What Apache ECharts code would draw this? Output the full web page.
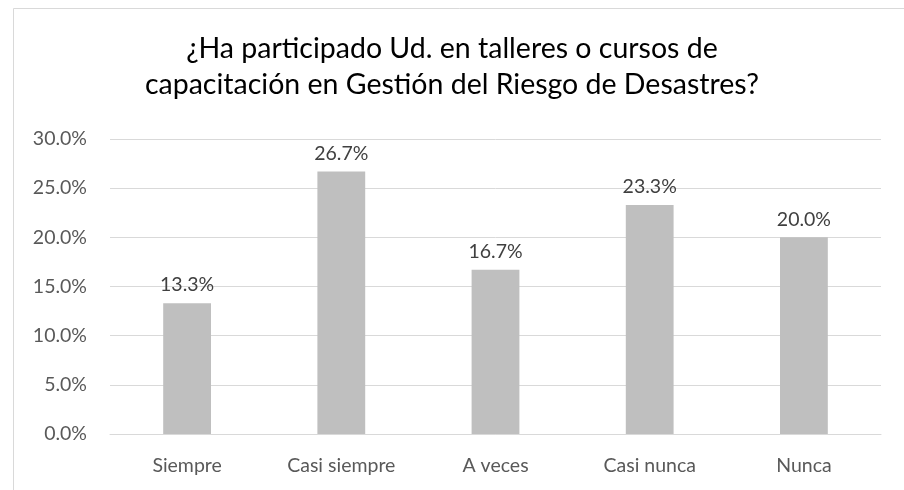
<!DOCTYPE html>
<html>
<head>
<meta charset="utf-8">
<script src="https://cdn.jsdelivr.net/npm/echarts@6/dist/echarts.min.js"></script>
<style>
html,body{margin:0;padding:0;background:#fff;}
#chart{width:904px;height:490px;}
</style>
</head>
<body>
<div id="chart"></div>
<script>
const titleText = "¿Ha participado Ud. en talleres o cursos de\ncapacitación en Gestión del Riesgo de Desastres?";
const categories = ["Siempre", "Casi siempre", "A veces", "Casi nunca", "Nunca"];
const values = [13.3, 26.7, 16.7, 23.3, 20.0];
const yTicks = { min: 0, max: 30, interval: 5 };

const FONT = "Lato, 'Noto Sans', sans-serif";
const chart = echarts.init(document.getElementById('chart'), null, { renderer: 'canvas' });
chart.setOption({
  animation: false,
  backgroundColor: '#ffffff',
  graphic: [{
    type: 'rect', left: 11, top: 6,
    shape: { width: 1000, height: 600 },
    style: { fill: 'none', stroke: '#D9D9D9', lineWidth: 1 },
    silent: true
  }],
  title: {
    text: titleText,
    left: 'center', top: 26,
    textStyle: { fontFamily: FONT, fontSize: 28.5, fontWeight: 'normal', color: '#000000', lineHeight: 36 }
  },
  grid: { left: 110, right: 23, top: 139, bottom: 56 },
  xAxis: {
    type: 'category',
    data: categories,
    axisLine: { show: true, lineStyle: { color: '#D9D9D9', width: 1 } },
    axisTick: { show: false },
    axisLabel: { fontFamily: FONT, fontSize: 19.5, color: '#595959', margin: 22 }
  },
  yAxis: {
    type: 'value',
    min: yTicks.min, max: yTicks.max, interval: yTicks.interval,
    axisLine: { show: false },
    axisTick: { show: false },
    splitLine: { lineStyle: { color: '#D9D9D9', width: 1 } },
    axisLabel: { fontFamily: FONT, fontSize: 19.5, color: '#595959', margin: 23,
      formatter: v => v.toFixed(1) + '%' }
  },
  series: [{
    type: 'bar',
    data: values,
    barWidth: '31%',
    itemStyle: { color: '#BFBFBF' },
    label: { show: true, position: 'top', distance: 8, fontFamily: FONT, fontSize: 19.5, color: '#404040',
      formatter: p => p.value.toFixed(1) + '%' }
  }]
});
</script>
</body>
</html>
